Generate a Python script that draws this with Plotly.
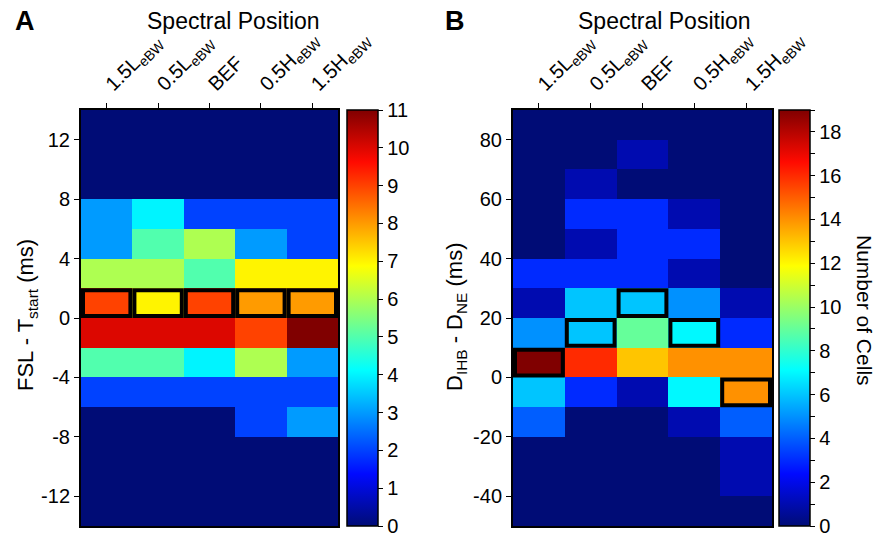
import plotly.graph_objects as go

# ---------------- data ----------------
positions = ["1.5L<sub>eBW</sub>", "0.5L<sub>eBW</sub>", "BEF", "0.5H<sub>eBW</sub>", "1.5H<sub>eBW</sub>"]

# Panel A: FSL - Tstart bins (centres, ms), rows top -> bottom
fsl_bins = [13, 11, 9, 7, 5, 3, 1, -1, -3, -5, -7, -9, -11, -13]
counts_A = [
    [0, 0, 0, 0, 0],
    [0, 0, 0, 0, 0],
    [0, 0, 0, 0, 0],
    [3, 4, 2, 2, 2],
    [3, 5, 6, 3, 2],
    [6, 6, 5, 7, 7],
    [9, 7, 9, 8, 8],
    [10, 10, 10, 9, 11],
    [5, 5, 4, 6, 3],
    [2, 2, 2, 2, 2],
    [0, 0, 0, 2, 3],
    [0, 0, 0, 0, 0],
    [0, 0, 0, 0, 0],
    [0, 0, 0, 0, 0],
]
boxA_cols = [0, 1, 2, 3, 4]
boxA_bins = [1, 1, 1, 1, 1]

# Panel B: DIHB - DNE bins (centres, ms)
dur_bins = [85, 75, 65, 55, 45, 35, 25, 15, 5, -5, -15, -25, -35, -45]
counts_B = [
    [0, 0, 0, 0, 0],
    [0, 0, 1, 0, 0],
    [0, 1, 0, 0, 0],
    [0, 3, 3, 1, 0],
    [0, 1, 3, 3, 0],
    [3, 3, 3, 1, 0],
    [1, 6, 6, 5, 1],
    [5, 6, 9, 7, 3],
    [19, 16, 13, 14, 14],
    [6, 3, 1, 7, 14],
    [4, 0, 0, 1, 4],
    [0, 0, 0, 0, 1],
    [0, 0, 0, 0, 1],
    [0, 0, 0, 0, 0],
]
boxB_cols = [2, 1, 3, 0, 4]
boxB_bins = [25, 15, 15, 5, -5]

ticksA = [-12, -8, -4, 0, 4, 8, 12]
ticksB = [-40, -20, 0, 20, 40, 60, 80]
cbarA_ticks = list(range(0, 12))
cbarB_ticks = list(range(0, 20))

# ---------------- style ----------------
W, H = 876, 535
FONT = "Liberation Sans, Arial, sans-serif"
jet = [
    [0.0, "rgb(0,12,118)"],
    [0.125, "rgb(0,10,255)"],
    [0.375, "rgb(0,255,255)"],
    [0.625, "rgb(255,255,0)"],
    [0.875, "rgb(255,10,0)"],
    [1.0, "rgb(128,0,0)"],
]

def px(x):
    return x / W

def py(y):
    return 1 - y / H

top, bot = 110, 526
A_l, A_r = 81, 338
B_l, B_r = 513, 772

fig = go.Figure()

def cbar(xpix, ticks, labels):
    return dict(
        x=px(xpix), xanchor="left", y=py(bot), yanchor="bottom",
        len=bot - top, lenmode="pixels", thickness=31, thicknessmode="pixels",
        xpad=0, ypad=0, outlinecolor="black", outlinewidth=1.5,
        ticks="outside", ticklen=5, tickwidth=1.2, tickcolor="black",
        tickvals=ticks, ticktext=labels, ticklabeloverflow="allow",
        tickfont=dict(size=20, color="black", family=FONT),
    )

fig.add_trace(go.Heatmap(
    z=counts_A, x=list(range(len(positions))), y=fsl_bins,
    zmin=0, zmax=11, colorscale=jet, xaxis="x", yaxis="y",
    colorbar=cbar(347, cbarA_ticks, [str(v) for v in cbarA_ticks]),
    hoverinfo="skip",
))

fig.add_trace(go.Heatmap(
    z=counts_B, x=list(range(len(positions))), y=dur_bins,
    zmin=0, zmax=19, colorscale=jet, xaxis="x2", yaxis="y2",
    colorbar=cbar(779, cbarB_ticks, [str(v) if v % 2 == 0 else " " for v in cbarB_ticks]),
    hoverinfo="skip",
))

xcommon = dict(
    side="top", tickangle=-45, ticks="outside", ticklen=5, tickwidth=1.2,
    tickcolor="black", showline=True, linecolor="black", linewidth=2,
    mirror=True, showgrid=False, zeroline=False,
    tickvals=list(range(len(positions))), ticktext=positions,
    range=[-0.5, len(positions) - 0.5],
    tickfont=dict(size=20, color="black", family=FONT),
)
ycommon = dict(
    ticks="outside", ticklen=5, tickwidth=1.2, tickcolor="black",
    showline=True, linecolor="black", linewidth=2, mirror=True,
    showgrid=False, zeroline=False,
    tickfont=dict(size=20, color="black", family=FONT),
)

fig.update_layout(
    width=W, height=H, autosize=False,
    margin=dict(l=0, r=0, t=0, b=0, autoexpand=False),
    paper_bgcolor="white", plot_bgcolor="white",
    font=dict(family=FONT, color="black"),
    xaxis=dict(domain=[px(A_l), px(A_r)], anchor="y", **xcommon),
    yaxis=dict(domain=[py(bot), py(top)], anchor="x", range=[-14, 14],
               tickvals=ticksA, ticktext=[str(v) for v in ticksA], **ycommon),
    xaxis2=dict(domain=[px(B_l), px(B_r)], anchor="y2", **xcommon),
    yaxis2=dict(domain=[py(bot), py(top)], anchor="x2", range=[-50, 90],
                tickvals=ticksB, ticktext=[str(v) for v in ticksB], **ycommon),
    showlegend=False,
)

# highlight boxes (cells given by data lists)
LW = 4

def add_boxes(cols, bins, binw, xref, yref, yspan_px, yspan_units, xspan_px):
    ix = (LW / 2) / (xspan_px / len(positions))
    iy = (LW / 2) * yspan_units / yspan_px
    for c, b in zip(cols, bins):
        fig.add_shape(type="rect", xref=xref, yref=yref,
                      x0=c - 0.5 + ix, x1=c + 0.5 - ix,
                      y0=b - binw / 2 + iy, y1=b + binw / 2 - iy,
                      line=dict(color="black", width=LW), fillcolor="rgba(0,0,0,0)")

add_boxes(boxA_cols, boxA_bins, 2, "x", "y", bot - top, 28, A_r - A_l)
add_boxes(boxB_cols, boxB_bins, 10, "x2", "y2", bot - top, 140, B_r - B_l)

# text annotations
ann = [
    dict(text="<b>A</b>", x=px(25), y=py(21), size=27, angle=0),
    dict(text="<b>B</b>", x=px(455), y=py(21), size=27, angle=0),
    dict(text="Spectral Position", x=px(233), y=py(21), size=23, angle=0),
    dict(text="Spectral Position", x=px(664), y=py(21), size=23, angle=0),
    dict(text="FSL - T<sub>start</sub> (ms)", x=px(27), y=py(315), size=22, angle=-90),
    dict(text="D<sub>IHB</sub> - D<sub>NE</sub> (ms)", x=px(456), y=py(317), size=22, angle=-90),
    dict(text="Number of Cells", x=px(865), y=py(310), size=21, angle=90),
]
for a in ann:
    fig.add_annotation(text=a["text"], x=a["x"], y=a["y"], xref="paper", yref="paper",
                       xanchor="center", yanchor="middle", showarrow=False,
                       textangle=a["angle"],
                       font=dict(size=a["size"], color="black", family=FONT))

fig.write_html("out.html")
